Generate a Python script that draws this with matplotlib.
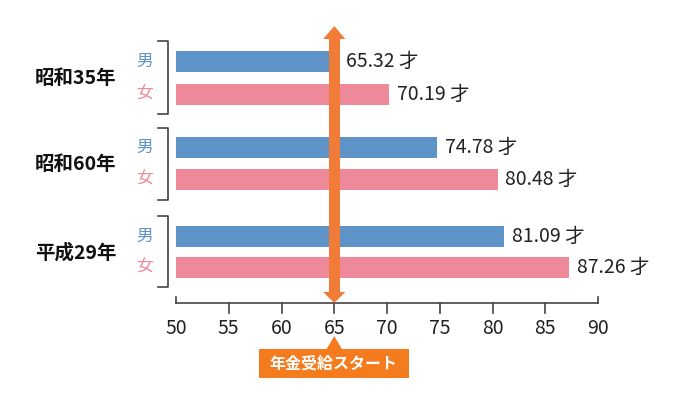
import numpy as np
import matplotlib
matplotlib.use('Agg')
import matplotlib.pyplot as plt
from matplotlib.patches import Polygon

plt.rcParams['font.family'] = ['Noto Sans CJK JP', 'DejaVu Sans']

# data
groups = ['昭和35年', '昭和60年', '平成29年']
male = [65.32, 74.78, 81.09]
female = [70.19, 80.48, 87.26]
xticks = [50, 55, 60, 65, 70, 75, 80, 85, 90]
pension_age = 65

blue = '#5e93c7'
pink = '#ed8999'
orange = '#f07c38'
dark = '#4a4242'

fig = plt.figure(figsize=(6.8, 4.03), dpi=100)
# y axis in pixel-like units (top = 20, spine = 303)
ax = fig.add_axes([176 / 680, 1 - 303 / 403, (598 - 176) / 680, (303 - 20) / 403])
ax.set_xlim(50, 90)
ax.set_ylim(303, 20)

male_y = [61, 147.5, 236]
female_y = [94, 179.5, 267]
bh = 21

ax.barh(male_y, np.array(male) - 50, left=50, height=bh, color=blue, zorder=2)
ax.barh(female_y, np.array(female) - 50, left=50, height=bh, color=pink, zorder=2)

for v, y in zip(male, male_y):
    ax.text(v + 0.75, y, f'{v:.2f} 才', va='center', ha='left', fontsize=14, color='#222222', zorder=4)
for v, y in zip(female, female_y):
    ax.text(v + 0.75, y, f'{v:.2f} 才', va='center', ha='left', fontsize=14, color='#222222', zorder=4)

# brackets and labels on the left
for g, ym, yf in zip(groups, male_y, female_y):
    top, bot = ym - 20, yf + 20
    ax.plot([48.3, 49.25, 49.25, 48.3], [top, top, bot, bot], color=dark, lw=1.2, clip_on=False)
    ax.text(47.0, ym, '男', color=blue, fontsize=12, ha='center', va='center', clip_on=False)
    ax.text(47.0, yf, '女', color=pink, fontsize=12, ha='center', va='center', clip_on=False)
    ax.text(40.5, (top + bot) / 2 + 1, g, fontsize=14, fontweight='bold', ha='center',
            va='center', color='#111111', clip_on=False)

# pension start arrow
w = 0.52
ax.fill_between([pension_age - w, pension_age + w], 38, 293, color=orange, zorder=3, lw=0)
ax.add_patch(Polygon([[pension_age - 1.05, 39], [pension_age + 1.05, 39], [pension_age, 26]],
                     closed=True, color=orange, zorder=3, lw=0))
ax.add_patch(Polygon([[pension_age - 1.05, 292], [pension_age + 1.05, 292], [pension_age, 303]],
                     closed=True, color=orange, zorder=3, lw=0))

# axis
for s in ['top', 'right', 'left']:
    ax.spines[s].set_visible(False)
ax.spines['bottom'].set_color(dark)
ax.spines['bottom'].set_linewidth(1.2)
ax.set_yticks([])
ax.set_xticks(xticks)
ax.tick_params(axis='x', length=0, pad=11, labelsize=14, labelcolor='#222222')
for t in xticks:
    if t in (xticks[0], xticks[-1]):
        ax.plot([t, t], [303, 297], color=dark, lw=1.2, clip_on=False)
    else:
        ax.plot([t, t], [303, 313], color=dark, lw=1.2, clip_on=False)

# label box under axis
ax.add_patch(Polygon([[pension_age - 0.75, 349.5], [pension_age + 0.75, 349.5], [pension_age, 336]],
                     closed=True, color='#f47b1e', lw=0, clip_on=False))
ax.add_patch(plt.Rectangle((57.85, 349), 14.2, 29, color='#f47b1e', lw=0, clip_on=False))
ax.text(64.95, 363.5, '年金受給スタート', color='white', fontsize=11.5, fontweight='bold',
        ha='center', va='center', clip_on=False)

fig.savefig('out.png', dpi=100)
